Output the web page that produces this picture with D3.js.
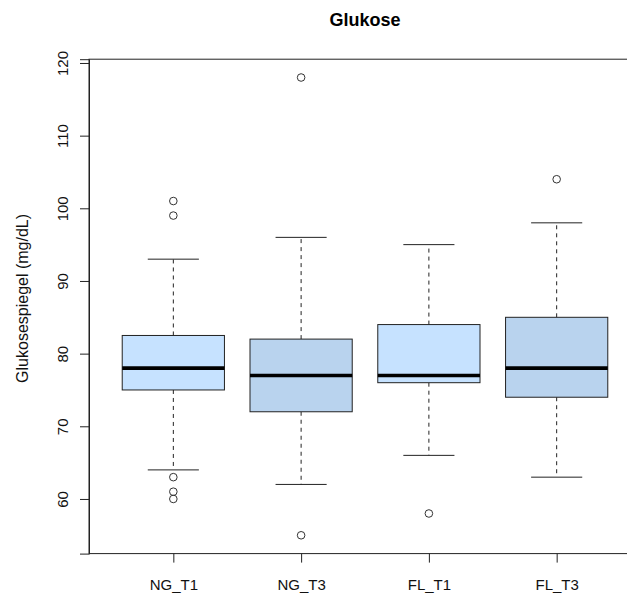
<!DOCTYPE html>
<html>
<head>
<meta charset="utf-8">
<script src="https://cdn.jsdelivr.net/npm/d3@7"></script>
<style>
  html, body { margin: 0; padding: 0; background: #fff; }
  svg { display: block; font-family: "Liberation Sans", Arial, sans-serif; }
</style>
</head>
<body>
<svg id="chart" width="627" height="594"></svg>
<script>
// Group labels along the x axis
const groups = ["NG_T1", "NG_T3", "FL_T1", "FL_T3"];
// Five-number summaries per group (mg/dL)
const whiskerLow  = [64, 62, 66, 63];
const boxLow      = [75, 72, 76, 74];
const medians     = [78, 77, 77, 78];
const boxHigh     = [82.5, 82, 84, 85];
const whiskerHigh = [93, 96, 95, 98];
// Points beyond the whiskers
const outliers = [
  [101, 99, 63, 61, 60],
  [118, 55],
  [58],
  [104]
];
const fills = ["#C6E2FF", "#B9D3EE", "#C6E2FF", "#B9D3EE"];
const yTicks = [60, 70, 80, 90, 100, 110, 120];

const svg = d3.select("#chart");

// Plot region (right part runs past the canvas edge)
const plot = { left: 89, right: 641, top: 59.2, bottom: 553.6 };

// Value range padded by 4% each side
const allVals = whiskerLow.concat(whiskerHigh, outliers.flat());
const vMin = d3.min(allVals), vMax = d3.max(allVals);
const pad = (vMax - vMin) * 0.04;

const x = d3.scaleLinear()
  .domain([0.5 - 0.16, groups.length + 0.5 + 0.16])
  .range([plot.left, plot.right]);
const y = d3.scaleLinear()
  .domain([vMin - pad, vMax + pad])
  .range([plot.bottom, plot.top]);

const unit = x(2) - x(1);
const boxW = unit * 0.8;
const capW = boxW * 0.5;
const lineCol = "#222";

const g = svg.append("g");

groups.forEach((name, i) => {
  const cx = x(i + 1);
  // dashed whiskers
  g.append("line")
    .attr("x1", cx).attr("x2", cx)
    .attr("y1", y(boxHigh[i])).attr("y2", y(whiskerHigh[i]))
    .attr("stroke", lineCol).attr("stroke-width", 1)
    .attr("stroke-dasharray", "4,4");
  g.append("line")
    .attr("x1", cx).attr("x2", cx)
    .attr("y1", y(boxLow[i])).attr("y2", y(whiskerLow[i]))
    .attr("stroke", lineCol).attr("stroke-width", 1)
    .attr("stroke-dasharray", "4,4");
  // staples
  [whiskerLow[i], whiskerHigh[i]].forEach(v => {
    g.append("line")
      .attr("x1", cx - capW / 2).attr("x2", cx + capW / 2)
      .attr("y1", y(v)).attr("y2", y(v))
      .attr("stroke", lineCol).attr("stroke-width", 1);
  });
  // box
  g.append("rect")
    .attr("x", cx - boxW / 2)
    .attr("width", boxW)
    .attr("y", y(boxHigh[i]))
    .attr("height", y(boxLow[i]) - y(boxHigh[i]))
    .attr("fill", fills[i])
    .attr("stroke", lineCol).attr("stroke-width", 1);
  // median
  g.append("line")
    .attr("x1", cx - boxW / 2).attr("x2", cx + boxW / 2)
    .attr("y1", y(medians[i])).attr("y2", y(medians[i]))
    .attr("stroke", "#000").attr("stroke-width", 3.6);
  // outliers
  outliers[i].forEach(v => {
    g.append("circle")
      .attr("cx", cx).attr("cy", y(v)).attr("r", 3.8)
      .attr("fill", "none")
      .attr("stroke", "#333").attr("stroke-width", 1);
  });
});

// Frame around the plot region
svg.append("rect")
  .attr("x", plot.left).attr("y", plot.top)
  .attr("width", plot.right - plot.left)
  .attr("height", plot.bottom - plot.top)
  .attr("fill", "none").attr("stroke", lineCol).attr("stroke-width", 1);

// Y axis
const yAxis = svg.append("g")
  .attr("transform", `translate(${plot.left},0)`)
  .call(d3.axisLeft(y).tickValues(yTicks).tickSize(9).tickPadding(0).tickFormat(d3.format("d")));
yAxis.select(".domain").attr("stroke", lineCol);
yAxis.selectAll(".tick line").attr("stroke", lineCol);
yAxis.selectAll(".tick text")
  .attr("font-size", 15)
  .attr("fill", "#111")
  .attr("font-family", "Liberation Sans, Arial, sans-serif")
  .attr("text-anchor", "middle")
  .attr("dy", null)
  .attr("x", null)
  .attr("transform", "translate(-21,0) rotate(-90)")
  .attr("y", 0);

// X axis
const xAxis = svg.append("g")
  .attr("transform", `translate(0,${plot.bottom})`)
  .call(d3.axisBottom(x).tickValues(d3.range(1, groups.length + 1)).tickSize(9).tickPadding(0)
    .tickFormat(d => groups[d - 1]));
xAxis.select(".domain").remove();
xAxis.selectAll(".tick line").attr("stroke", lineCol);
xAxis.selectAll(".tick text")
  .attr("font-size", 15)
  .attr("fill", "#111")
  .attr("font-family", "Liberation Sans, Arial, sans-serif")
  .attr("dy", null)
  .attr("y", 36);

// Title
svg.append("text")
  .attr("x", (plot.left + plot.right) / 2)
  .attr("y", 26)
  .attr("text-anchor", "middle")
  .attr("font-size", 18)
  .attr("font-weight", "bold")
  .attr("fill", "#000")
  .text("Glukose");

// Y axis label
svg.append("text")
  .attr("transform", `translate(28,${(plot.top + plot.bottom) / 2 - 8}) rotate(-90)`)
  .attr("text-anchor", "middle")
  .attr("font-size", 16)
  .attr("fill", "#111")
  .text("Glukosespiegel (mg/dL)");
</script>
</body>
</html>
